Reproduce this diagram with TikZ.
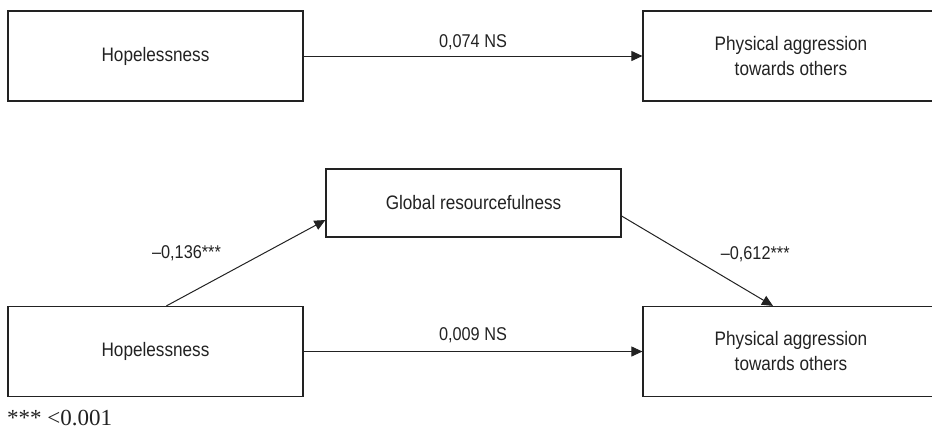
\documentclass[tikz,border=0pt]{standalone}
\usepackage{fontspec}
\setmainfont{Liberation Sans}
\newfontfamily\boxft{Liberation Sans}[FakeStretch=0.88]
\newfontfamily\serifft{Liberation Serif}
\usetikzlibrary{arrows.meta,calc}
\definecolor{ink}{HTML}{222222}
\begin{document}
\begin{tikzpicture}[x=1bp,y=-1bp,
  box/.style={draw=ink, line width=1.2bp, minimum width=295bp, minimum height=90bp, inner sep=0pt, align=center, font=\boxft\fontsize{19.5bp}{25bp}\selectfont, text=ink},
  conn/.style={draw=ink, line width=1bp, -{Triangle[length=11bp,width=10bp]}},
  lbl/.style={font=\boxft\fontsize{18.5bp}{21bp}\selectfont, text=ink, inner sep=0pt}]
\useasboundingbox (0,0) rectangle (932,431);
\clip (0,0) rectangle (932,431);
\node[box] (hope1) at (155.5,56) {Hopelessness};
\node[box, minimum width=296bp] (phys1) at (791,56) {Physical aggression\\towards others};
\node[box, minimum height=68bp] (glob) at (473.5,203) {Global resourcefulness};
\node[box] (hope2) at (155.5,351.5) {Hopelessness};
\node[box, minimum width=296bp] (phys2) at (791,351.5) {Physical aggression\\towards others};
\draw[conn] (hope1) -- (phys1) node[lbl, midway, anchor=base, yshift=9bp] {0,074 NS};
\draw[conn] ([xshift=159bp]hope2.north west) -- ([yshift=-17bp]glob.west) node[lbl, midway, anchor=base east, xshift=-24.5bp, yshift=4bp] {–0,136***};
\draw[conn] ([yshift=-13bp]glob.east) -- ([xshift=-18bp]phys2.north) node[lbl, midway, anchor=base west, xshift=23bp, yshift=1.7bp] {–0,612***};
\draw[conn] (hope2) -- (phys2) node[lbl, midway, anchor=base, yshift=11bp] {0,009 NS};
\node[font=\serifft\fontsize{23bp}{26bp}\selectfont, anchor=base west, inner sep=0pt, text=ink] (note) at (7,425.5) {*** <0.001};
\end{tikzpicture}
\end{document}
